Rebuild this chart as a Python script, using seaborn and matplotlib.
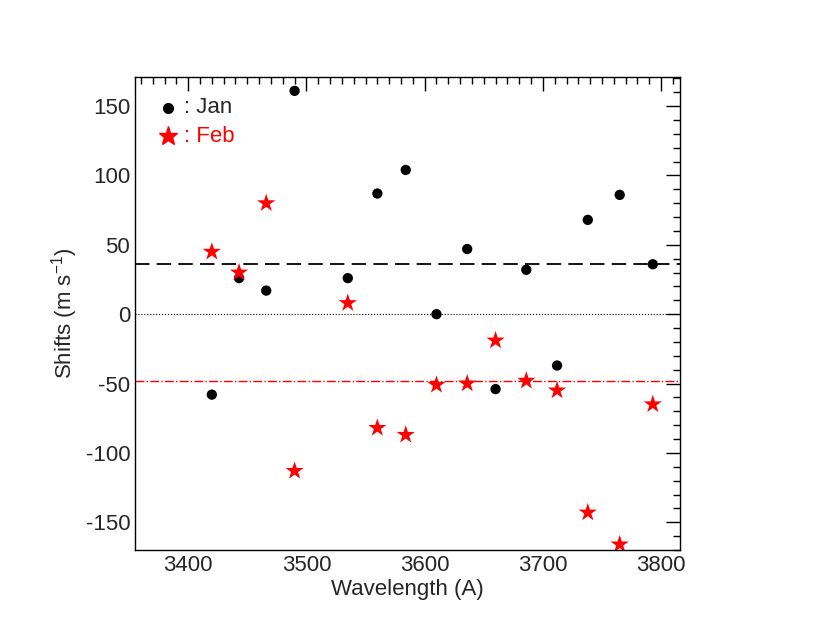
import numpy as np
import pandas as pd
import seaborn as sns
import matplotlib.pyplot as plt
from matplotlib.ticker import MultipleLocator

wavelength = [3420, 3443, 3466, 3490, 3535, 3560, 3584, 3610, 3636, 3660, 3686, 3712, 3738, 3765, 3793]
jan_shift = [-58, 26, 17, 161, 26, 87, 104, 0, 47, -54, 32, -37, 68, 86, 36]
feb_shift = [45, 30, 80, -113, 8, -82, -87, -51, -50, -19, -48, -55, -143, -166, -65]
jan_mean = 36
feb_mean = -48

df = pd.concat([
    pd.DataFrame({'wl': wavelength, 'shift': jan_shift, 'month': 'Jan'}),
    pd.DataFrame({'wl': wavelength, 'shift': feb_shift, 'month': 'Feb'}),
], ignore_index=True)

sns.set_theme(style='white', font='Liberation Sans')
plt.rcParams['axes.unicode_minus'] = False
fig = plt.figure(figsize=(8.14, 6.29), dpi=100)
ax = fig.add_axes([135 / 814, 1 - 550 / 629, 545 / 814, 473 / 629])

sns.scatterplot(data=df, x='wl', y='shift', hue='month', style='month',
                markers={'Jan': 'o', 'Feb': '*'}, palette={'Jan': 'black', 'Feb': 'red'},
                size='month', sizes={'Jan': 55, 'Feb': 190},
                edgecolor='none', legend=False, ax=ax)

ax.axhline(jan_mean, color='black', ls=(0, (8, 4)), lw=1.3)
ax.axhline(feb_mean, color='red', ls='-.', lw=1)
ax.axhline(0, color='black', ls=':', lw=0.8)

ax.set_xlim(3355, 3816)
ax.set_ylim(-170, 171)
ax.xaxis.set_major_locator(MultipleLocator(100))
ax.xaxis.set_minor_locator(MultipleLocator(10))
ax.yaxis.set_major_locator(MultipleLocator(50))
ax.yaxis.set_minor_locator(MultipleLocator(10))
ax.tick_params(which='both', direction='in', top=True, right=True, labelsize=16, color='black')
ax.tick_params(which='major', length=10, width=1)
ax.tick_params(which='minor', length=5, width=1)
for s in ax.spines.values():
    s.set_color('black')
    s.set_linewidth(1)

ax.set_xlabel('Wavelength (A)', fontsize=16, labelpad=2)
ax.set_ylabel('Shifts (m s$^{\\mathregular{-1}}$)', fontsize=16)

ax.plot([0.061], [0.935], 'o', color='black', ms=7, transform=ax.transAxes)
ax.text(0.09, 0.935, ': Jan', transform=ax.transAxes, fontsize=16, va='center')
ax.plot([0.061], [0.875], '*', color='red', ms=14, transform=ax.transAxes)
ax.text(0.09, 0.875, ': Feb', transform=ax.transAxes, fontsize=16, va='center', color='red')

fig.savefig('out.png', dpi=100)
